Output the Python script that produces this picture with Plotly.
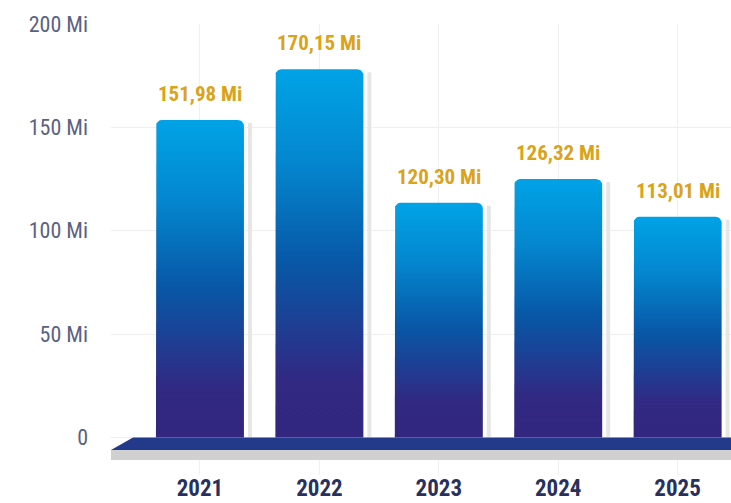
import numpy as np
import plotly.graph_objects as go

# ---- data ----
years = ["2021", "2022", "2023", "2024", "2025"]
label_values = [151.98, 170.15, 120.30, 126.32, 113.01]
bar_heights = [153.6, 178.1, 113.6, 125.0, 106.8]
y_ticks = [0, 50, 100, 150, 200]
y_tick_labels = ["0", "50 Mi", "100 Mi", "150 Mi", "200 Mi"]

# ---- layout geometry ----
W, H = 731, 503
ML, MR, MT, MB = 111, 0, 24, 28
XR = [-0.745, 4.447]
YR = [-18.1, 200]
px_x = (W - ML - MR) / (XR[1] - XR[0])
px_y = (H - MT - MB) / (YR[1] - YR[0])

FONT = "Liberation Sans Narrow, Roboto Condensed, Roboto, sans-serif"
half = 44 / px_x
rx, ry = 6 / px_x, 6 / px_y

gradient = [[0, "#32267f"], [0.16, "#312983"], [0.47, "#0857a6"], [0.75, "#0487cf"], [1, "#00a3e6"]]

fig = go.Figure()
xpos = list(range(len(years)))

for i, h in zip(xpos, bar_heights):
    # shadow strip on the right
    sx0 = i + half + 4 / px_x
    sx1 = i + half + 8 / px_x
    sh = h - 3 / px_y
    fig.add_trace(go.Scatter(
        x=[sx0, sx1, sx1, sx0, sx0], y=[0, 0, sh, sh, 0],
        fill="toself", fillcolor="#e6e6e6", line=dict(width=0),
        mode="lines", hoverinfo="skip", showlegend=False))
    # main bar with rounded top corners
    x0, x1 = i - half, i + half
    xs, ys = [x0], [0]
    for t in np.linspace(np.pi, np.pi / 2, 10):
        xs.append(x0 + rx + rx * np.cos(t)); ys.append(h - ry + ry * np.sin(t))
    for t in np.linspace(np.pi / 2, 0, 10):
        xs.append(x1 - rx + rx * np.cos(t)); ys.append(h - ry + ry * np.sin(t))
    xs += [x1, x0]; ys += [0, 0]
    fig.add_trace(go.Scatter(
        x=xs, y=ys, fill="toself",
        fillgradient=dict(type="vertical", colorscale=gradient),
        line=dict(width=0), mode="lines", hoverinfo="skip", showlegend=False))

# value labels
for i, h, v in zip(xpos, bar_heights, label_values):
    fig.add_annotation(
        x=i, y=h, text=f"{v:.2f}".replace(".", ",") + " Mi",
        showarrow=False, yanchor="bottom", yshift=12,
        font=dict(family=FONT, size=21, color="#d9a31a", weight="bold"))

# platform
slant = 22 / px_x
top_y = 0
mid_y = -12.5 / px_y
bot_y = -22.5 / px_y
fig.add_shape(type="rect", xref="x", yref="y", x0=XR[0], x1=XR[1] + 1, y0=bot_y, y1=mid_y,
              fillcolor="#d0d0d0", line=dict(width=0), layer="above")
fig.add_shape(type="path", xref="x", yref="y",
              path=f"M {XR[0]} {mid_y} L {XR[0] + slant} {top_y} L {XR[1] + 1} {top_y} L {XR[1] + 1} {mid_y} Z",
              fillcolor="#233a8b", line=dict(width=0), layer="above")

fig.update_layout(
    width=W, height=H,
    margin=dict(l=ML, r=MR, t=MT, b=MB, autoexpand=False),
    paper_bgcolor="white", plot_bgcolor="white",
    xaxis=dict(range=XR, tickvals=xpos, ticktext=years, showgrid=True,
               gridcolor="#f0f0f0", gridwidth=1, zeroline=False, showline=False,
               tickfont=dict(family=FONT, size=23, color="#28305e", weight="bold"),
               ticks="", ticklabelstandoff=-3, fixedrange=True),
    yaxis=dict(range=YR, tickvals=y_ticks, ticktext=y_tick_labels, showgrid=True,
               gridcolor="#efefef", gridwidth=1, zeroline=False, showline=False,
               tickfont=dict(family=FONT, size=22, color="#5a6282"),
               ticks="", ticklabelstandoff=22, fixedrange=True),
)

fig.write_html(
    "out.html",
    config={"displayModeBar": False},
    post_script="document.body.style.margin='0';document.body.style.overflow='hidden';",
)
